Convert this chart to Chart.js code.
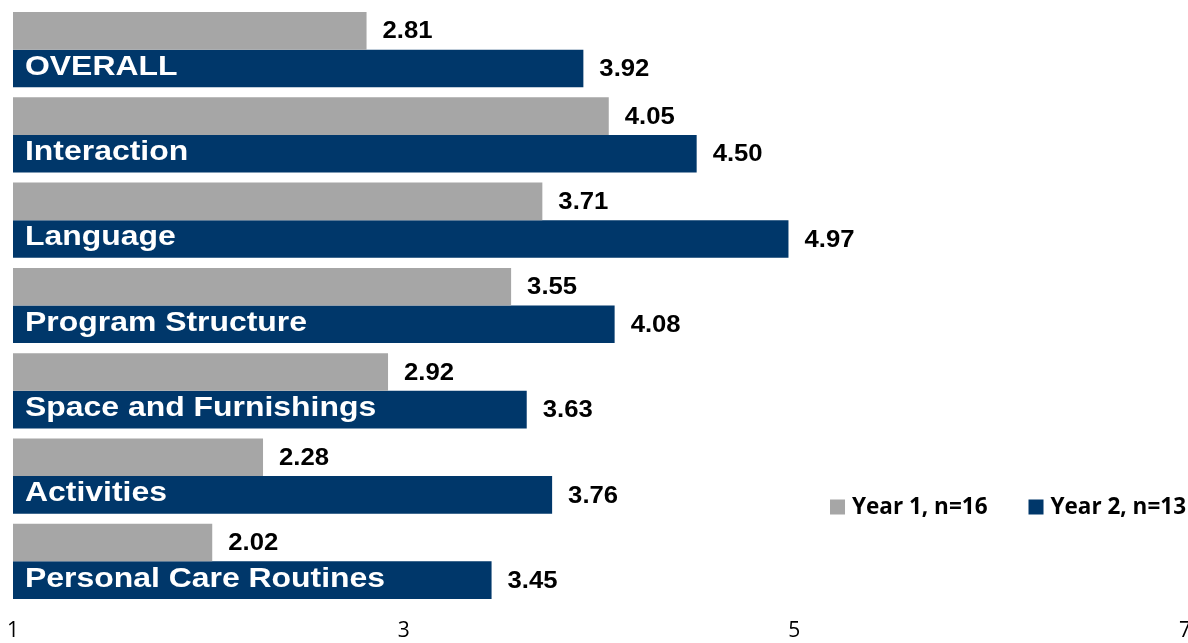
<!DOCTYPE html>
<html>
<head>
<meta charset="utf-8">
<script src="https://cdn.jsdelivr.net/npm/chart.js@4/dist/chart.umd.min.js"></script>
<style>
  html, body { margin: 0; padding: 0; background: #ffffff; }
  #wrap { width: 1188px; height: 643px; position: relative; }
</style>
</head>
<body>
<div id="wrap"><canvas id="c"></canvas></div>
<script>
// Rating categories, top to bottom
const categories = [
  'OVERALL',
  'Interaction',
  'Language',
  'Program Structure',
  'Space and Furnishings',
  'Activities',
  'Personal Care Routines'
];

// Mean scores per year
const year1Scores = [2.81, 4.05, 3.71, 3.55, 2.92, 2.28, 2.02];
const year2Scores = [3.92, 4.50, 4.97, 4.08, 3.63, 3.76, 3.45];

// Series names shown in the legend
const seriesNames = ['Year 1, n=16', 'Year 2, n=13'];

// Scale range and tick values
const scaleMin = 1;
const scaleMax = 7;
const tickValues = [1, 3, 5, 7];

const GRAY = '#A6A6A6';
const NAVY = '#00376A';

// Draws text stretched horizontally by sx, anchored at its left edge
function wideText(ctx, text, x, y, sx) {
  ctx.save();
  ctx.translate(x, y);
  ctx.scale(sx, 1);
  ctx.fillText(text, 0, 0);
  ctx.restore();
}

// Value labels beside every bar, plus the category name inside the Year 2 bar
const barLabels = {
  id: 'barLabels',
  afterDatasetsDraw(chart) {
    const ctx = chart.ctx;
    ctx.save();
    ctx.textAlign = 'left';
    ctx.textBaseline = 'middle';
    chart.data.datasets.forEach((ds, di) => {
      const meta = chart.getDatasetMeta(di);
      meta.data.forEach((bar, i) => {
        ctx.fillStyle = '#000000';
        ctx.font = 'bold 24px "Liberation Sans", Arial, sans-serif';
        wideText(ctx, ds.data[i].toFixed(2), bar.x + 16, bar.y + 1, 1.07);
        if (di === 1) {
          ctx.fillStyle = '#ffffff';
          ctx.font = 'bold 28.5px "Liberation Sans", Arial, sans-serif';
          wideText(ctx, chart.data.labels[i], chart.chartArea.left + 12, bar.y - 1.5, 1.12);
        }
      });
    });
    ctx.restore();
  }
};

// Legend drawn inside the plot area, lower right
const insideLegend = {
  id: 'insideLegend',
  afterDraw(chart) {
    const ctx = chart.ctx;
    ctx.save();
    ctx.font = 'bold 22.5px "Open Sans", sans-serif';
    ctx.textBaseline = 'middle';
    ctx.textAlign = 'left';
    const box = 15, gapText = 7, gapItem = 41;
    const items = chart.data.datasets.map(ds => ({
      text: ds.label, color: ds.backgroundColor, w: ctx.measureText(ds.label).width
    }));
    let total = 0;
    items.forEach((it, k) => { total += box + gapText + it.w + (k ? gapItem : 0); });
    let x = chart.width - 2 - total;
    const y = 507;
    items.forEach(it => {
      ctx.fillStyle = it.color;
      ctx.fillRect(x, y - box / 2, box, box);
      ctx.fillStyle = '#000000';
      ctx.fillText(it.text, x + box + gapText, y + 1);
      x += box + gapText + it.w + gapItem;
    });
    ctx.restore();
  }
};

new Chart(document.getElementById('c'), {
  type: 'bar',
  data: {
    labels: categories,
    datasets: [
      { label: seriesNames[0], data: year1Scores, backgroundColor: GRAY },
      { label: seriesNames[1], data: year2Scores, backgroundColor: NAVY }
    ]
  },
  options: {
    indexAxis: 'y',
    responsive: true,
    maintainAspectRatio: false,
    animation: false,
    base: scaleMin,
    datasets: {
      bar: { barPercentage: 1.0, categoryPercentage: 0.882, borderWidth: 0 }
    },
    layout: { padding: { top: 7, left: 13, right: 3, bottom: 0 } },
    plugins: {
      legend: { display: false },
      tooltip: { enabled: false }
    },
    scales: {
      x: {
        min: scaleMin,
        max: scaleMax,
        afterBuildTicks(scale) {
          scale.ticks = tickValues.map(v => ({ value: v }));
        },
        afterFit(scale) {
          scale.height = 39;
          scale.paddingLeft = 0;
          scale.paddingRight = 0;
        },
        grid: { display: false, drawTicks: false, tickLength: 0 },
        border: { display: false },
        ticks: {
          color: '#000000',
          padding: 14,
          maxRotation: 0,
          font: { family: '"Open Sans", sans-serif', size: 21, lineHeight: 1.2 }
        }
      },
      y: {
        display: false,
        grid: { display: false }
      }
    }
  },
  plugins: [barLabels, insideLegend]
});
</script>
</body>
</html>
